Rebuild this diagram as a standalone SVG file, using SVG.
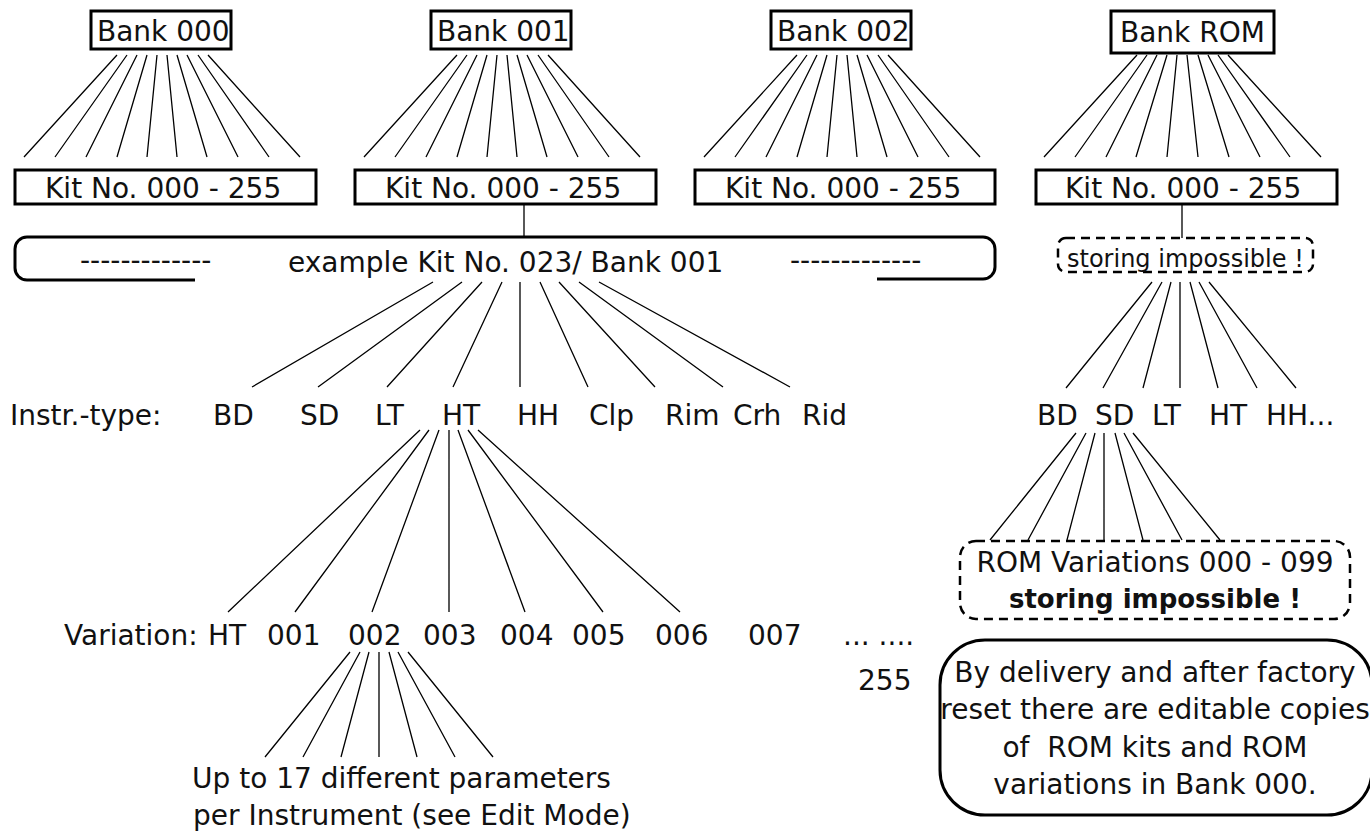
<svg xmlns="http://www.w3.org/2000/svg" width="1370" height="832" viewBox="0 0 1370 832">
<style>
text{font-family:"DejaVu Sans","Liberation Sans",sans-serif;font-size:28px;fill:#111}
.box{fill:none;stroke:#000;stroke-width:3}
.dash{fill:none;stroke:#000;stroke-width:2.5;stroke-dasharray:9 6}
.fan{fill:none;stroke:#000;stroke-width:1.3}
.sm{font-size:24px}
.b{font-weight:bold;font-size:26px}
.mid{text-anchor:middle}
</style>
<rect width="1370" height="832" fill="#fff"/>
<g id="connectors">
<path class="fan" d="M117 55L24 157M127 55L55 157M137 55L86 157M147 55L117 157M157 55L147 157M167 55L177 157M177 55L207 157M187 55L238 157M198 55L269 157M208 55L300 157"/>
<path class="fan" d="M457 55L364 157M467 55L395 157M477 55L426 157M487 55L457 157M497 55L487 157M507 55L517 157M517 55L547 157M527 55L578 157M538 55L609 157M548 55L640 157"/>
<path class="fan" d="M797 55L704 157M807 55L735 157M817 55L766 157M827 55L797 157M837 55L827 157M847 55L857 157M857 55L887 157M867 55L918 157M878 55L949 157M888 55L980 157"/>
<path class="fan" d="M1137 55L1044 157M1147 55L1075 157M1157 55L1106 157M1167 55L1136 157M1177 55L1167 157M1187 55L1198 157M1198 55L1229 157M1208 55L1260 157M1218 55L1290 157M1228 55L1321 157"/>
<path class="fan" d="M524 204V237M1182 204V238"/>
<path class="fan" d="M433 282L252 387M462 282L318 387M482 282L387 387M502 282L453 387M520 282L520 387M540 282L588 387M559 282L655 387M579 282L723 387M599 282L790 387"/>
<path class="fan" d="M420 430L228 612M429 430L295 612M439 430L372 612M449 430L449 612M458 430L525 612M468 430L603 612M478 430L680 612"/>
<path class="fan" d="M350 652L265 757M360 652L303 757M369 652L341 757M379 652L379 757M389 652L417 757M398 652L455 757M408 652L493 757"/>
<path class="fan" d="M1152 282L1066 388M1162 282L1103 388M1171 282L1143 388M1180 282L1180 388M1190 282L1218 388M1199 282L1257 388M1209 282L1296 388"/>
<path class="fan" d="M1076 433L990 540M1086 433L1028 540M1095 433L1067 540M1104 433L1104 540M1115 433L1143 540M1124 433L1182 540M1133 433L1220 540"/>
</g>
<g id="bank000"><rect class="box" x="91" y="11" width="140" height="38"/><text x="97" y="41">Bank 000</text></g>
<g id="bank001"><rect class="box" x="431" y="11" width="140" height="38"/><text x="437" y="41">Bank 001</text></g>
<g id="bank002"><rect class="box" x="771" y="11" width="140" height="38"/><text x="777" y="41">Bank 002</text></g>
<g id="bankROM"><rect class="box" x="1111" y="11" width="163" height="42"/><text x="1120" y="42">Bank ROM</text></g>
<g id="kit000"><rect class="box" x="15" y="170" width="301" height="34"/><text x="45" y="198">Kit No. 000 - 255</text></g>
<g id="kit001"><rect class="box" x="355" y="170" width="301" height="34"/><text x="385" y="198">Kit No. 000 - 255</text></g>
<g id="kit002"><rect class="box" x="695" y="170" width="300" height="34"/><text x="725" y="198">Kit No. 000 - 255</text></g>
<g id="kitROM"><rect class="box" x="1036" y="170" width="301" height="34"/><text x="1065" y="198">Kit No. 000 - 255</text></g>
<g id="example">
<path class="box" d="M195 280H27A12 12 0 0 1 15 268V249A12 12 0 0 1 27 237H983A12 12 0 0 1 995 249V267A12 12 0 0 1 983 279H877"/>
<text x="80" y="270">-------------</text>
<text x="288" y="272">example Kit No. 023/ Bank 001</text>
<text x="790" y="270">-------------</text>
</g>
<g id="storing1"><rect class="dash" x="1058" y="238" width="255" height="34" rx="8"/><text class="sm" x="1067" y="267">storing impossible !</text></g>
<g id="instr">
<text x="10" y="425">Instr.-type:</text>
<text x="213" y="425">BD</text><text x="300" y="425">SD</text><text x="375" y="425">LT</text><text x="442" y="425">HT</text>
<text x="517" y="425">HH</text><text x="589" y="425">Clp</text><text x="665" y="425">Rim</text><text x="733" y="425">Crh</text><text x="802" y="425">Rid</text>
</g>
<g id="instrROM">
<text x="1037" y="425">BD</text><text x="1095" y="425">SD</text><text x="1152" y="425">LT</text><text x="1209" y="425">HT</text><text x="1266" y="425">HH...</text>
</g>
<g id="variation">
<text x="64" y="645">Variation:</text>
<text x="208" y="645">HT</text><text x="267" y="645">001</text><text x="348" y="645">002</text><text x="423" y="645">003</text>
<text x="500" y="645">004</text><text x="572" y="645">005</text><text x="655" y="645">006</text><text x="748" y="645">007</text>
<text x="843" y="645">... ....</text>
<text x="858" y="690">255</text>
</g>
<g id="params">
<text x="192" y="788">Up to 17 different parameters</text>
<text x="193" y="825">per Instrument (see Edit Mode)</text>
</g>
<g id="romvar">
<rect class="dash" x="960" y="541" width="390" height="78" rx="16"/>
<text class="mid" x="1155" y="572">ROM Variations 000 - 099</text>
<text class="mid b" x="1155" y="608">storing impossible !</text>
</g>
<g id="note">
<rect class="box" x="940" y="640" width="432" height="175" rx="45"/>
<text class="mid" x="1155" y="682">By delivery and after factory</text>
<text class="mid" x="1155" y="719">reset there are editable copies</text>
<text class="mid" x="1155" y="757">of&#160; ROM kits and ROM</text>
<text class="mid" x="1155" y="794">variations in Bank 000.</text>
</g>
</svg>
